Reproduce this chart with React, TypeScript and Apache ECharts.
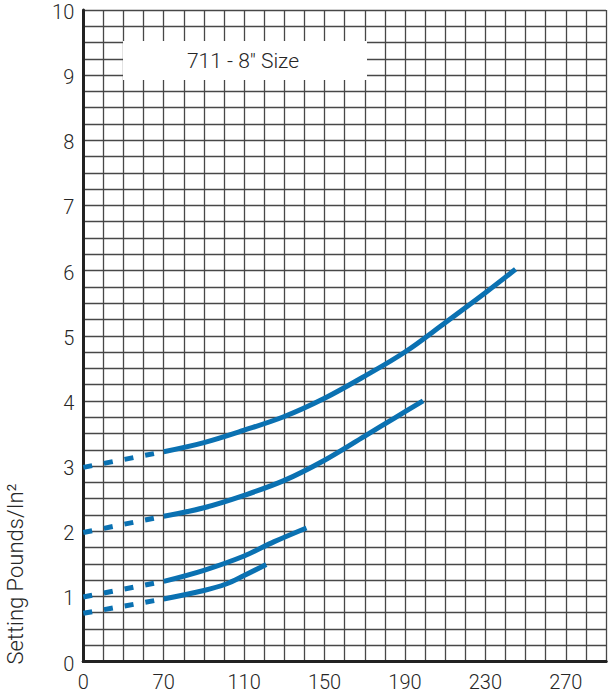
import React, { useEffect, useRef } from "react";
import * as echarts from "echarts";

// Axis tick labels (x axis is drawn in grid units: 4 minor cells per labelled step)
const xTickLabels = [0, 70, 110, 150, 190, 230, 270];
const yMax = 10;

// Curves: [x, pounds/in²]
const curve1Dashed = [[0, 2.98], [70, 3.22]];
const curve1Solid = [[70, 3.22], [90, 3.36], [110, 3.55], [130, 3.76], [150, 4.04], [170, 4.38], [190, 4.75], [210, 5.2], [230, 5.66], [245, 6.02]];
const curve2Dashed = [[0, 1.98], [70, 2.23]];
const curve2Solid = [[70, 2.23], [90, 2.36], [110, 2.55], [130, 2.78], [150, 3.09], [170, 3.46], [185, 3.74], [199, 4.0]];
const curve3Dashed = [[0, 0.99], [70, 1.23]];
const curve3Solid = [[70, 1.23], [90, 1.4], [110, 1.62], [125, 1.84], [141, 2.05]];
const curve4Dashed = [[0, 0.74], [70, 0.96]];
const curve4Solid = [[70, 0.96], [90, 1.09], [101, 1.19], [110, 1.32], [121, 1.49]];

const chartTitle = '711 - 8" Size';
const yAxisTitle = "Setting Pounds/In²";

const CELLS = 4;
function toUnit(x: number): number {
  for (let i = 0; i < xTickLabels.length - 1; i++) {
    const a = xTickLabels[i];
    const b = xTickLabels[i + 1];
    if (x <= b) return (i + (x - a) / (b - a)) * CELLS;
  }
  const n = xTickLabels.length - 1;
  return (n + (x - xTickLabels[n]) / (xTickLabels[n] - xTickLabels[n - 1])) * CELLS;
}
const conv = (pts: number[][]) => pts.map(([x, y]) => [toUnit(x), y]);

const BLUE = "#0a71b2";
const FONT = "Roboto, 'Liberation Sans', sans-serif";
const TEXT = "#262626";

export default function App() {
  const ref = useRef<HTMLDivElement>(null);
  useEffect(() => {
    if (!ref.current) return;
    const chart = echarts.init(ref.current, undefined, { renderer: "svg" });
    const gridLine = { show: true, lineStyle: { color: "#474747", width: 1.3 } };
    const solid = (data: number[][]) => ({
      type: "line",
      data: conv(data),
      smooth: 0.35,
      showSymbol: false,
      symbol: "none",
      lineStyle: { color: BLUE, width: 5 },
      z: 5,
    });
    const dashed = (data: number[][]) => ({
      type: "line",
      data: conv(data),
      showSymbol: false,
      symbol: "none",
      lineStyle: { color: BLUE, width: 5, type: [9, 12] },
      z: 5,
    });
    chart.setOption({
      animation: false,
      backgroundColor: "#fff",
      grid: { left: 83.3, top: 10, bottom: 38.5, width: 531.7, containLabel: false },
      xAxis: [
        {
          type: "value",
          min: 0,
          max: 26,
          interval: 1,
          axisLine: { show: true, onZero: false, lineStyle: { color: "#222", width: 3 } },
          axisTick: { show: false },
          splitLine: gridLine,
          axisLabel: {
            margin: 10,
            fontSize: 20,
            fontFamily: FONT,
            fontWeight: 300,
            color: TEXT,
            formatter: (v: number) => {
              const r = Math.round(v);
              if (Math.abs(v - r) > 1e-6 || r % CELLS !== 0) return "";
              const idx = r / CELLS;
              return idx < xTickLabels.length ? String(xTickLabels[idx]) : "";
            },
          },
        },
        {
          type: "value",
          position: "top",
          min: 0,
          max: 26,
          interval: 1,
          axisLine: { show: true, lineStyle: { color: "#222", width: 3 } },
          axisTick: { show: false },
          axisLabel: { show: false },
          splitLine: { show: false },
        },
      ],
      yAxis: {
        type: "value",
        min: 0,
        max: yMax,
        interval: 0.25,
        axisLine: { show: true, onZero: false, lineStyle: { color: "#222", width: 3 } },
        axisTick: { show: false },
        splitLine: gridLine,
        axisLabel: {
          margin: 9,
          fontSize: 20,
          lineHeight: 4,
          verticalAlign: "top",
          fontFamily: FONT,
          fontWeight: 300,
          color: TEXT,
          formatter: (v: number) => {
            const r = Math.round(v);
            return Math.abs(v - r) < 1e-6 ? String(r) : "";
          },
        },
      },
      graphic: [
        {
          type: "rect",
          z: 50,
          shape: { x: 123, y: 41, width: 244, height: 39 },
          style: { fill: "#fff" },
        },
        {
          type: "text",
          z: 51,
          x: 243,
          y: 61,
          style: {
            text: chartTitle,
            fontSize: 21,
            fontFamily: FONT,
            fontWeight: 300,
            fill: TEXT,
            align: "center",
            verticalAlign: "middle",
          },
        },
        {
          type: "text",
          z: 51,
          x: 15,
          y: 574,
          rotation: Math.PI / 2,
          style: {
            text: yAxisTitle,
            fontSize: 22,
            fontFamily: FONT,
            fontWeight: 300,
            fill: TEXT,
            align: "center",
            verticalAlign: "middle",
          },
        },
      ],
      series: [
        dashed(curve1Dashed),
        solid(curve1Solid),
        dashed(curve2Dashed),
        solid(curve2Solid),
        dashed(curve3Dashed),
        solid(curve3Solid),
        dashed(curve4Dashed),
        solid(curve4Solid),
      ],
    });
    return () => chart.dispose();
  }, []);
  return (
    <div
      ref={ref}
      style={{ position: "absolute", left: 0, top: 0, width: 609, height: 700 }}
    />
  );
}
